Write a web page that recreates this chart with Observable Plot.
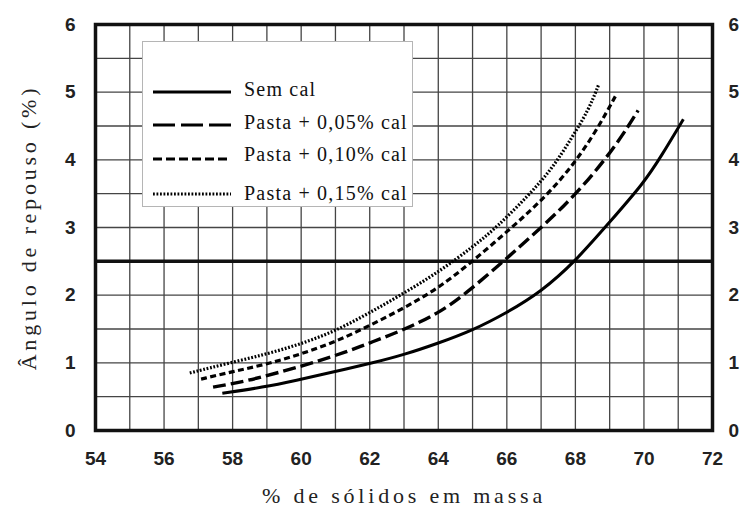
<!DOCTYPE html>
<html><head><meta charset="utf-8">
<script src="https://cdn.jsdelivr.net/npm/d3@7"></script>
<script src="https://cdn.jsdelivr.net/npm/@observablehq/plot@0.6"></script>
<style>
html,body{margin:0;padding:0;background:#fff;}
#wrap{position:relative;width:744px;height:509px;overflow:hidden;}
#legend{position:absolute;left:142px;top:41px;width:271px;height:166px;background:#fff;border:1px solid #b5b5b5;box-sizing:border-box;}
</style></head><body><div id="wrap"></div>
<script>
// tick labels
const xTicks = [54, 56, 58, 60, 62, 64, 66, 68, 70, 72];
const yTicks = [0, 1, 2, 3, 4, 5, 6];
const xGridStep = 1;
const yGridStep = 0.5;
const refLine = [2.5];
const xTitle = "% de sólidos em massa";
const yTitle = "Ângulo de repouso (%)";

// series
const seriesNames = ["Sem cal", "Pasta + 0,05% cal", "Pasta + 0,10% cal", "Pasta + 0,15% cal"];
const semCalX = [57.7, 58.9, 59.85, 60.9, 62.1, 63, 64, 65, 66, 67, 68, 69, 70, 70.5, 71.15];
const semCalY = [0.55, 0.64, 0.74, 0.86, 1.0, 1.12, 1.29, 1.48, 1.74, 2.05, 2.5, 3.08, 3.66, 4.05, 4.6];
const p005X = [57.43, 58.4, 59.37, 60.34, 61.31, 62.08, 63, 64, 64.8, 65.9, 66.83, 67.7, 68.48, 69.25, 69.83];
const p005Y = [0.64, 0.73, 0.86, 1.0, 1.16, 1.31, 1.49, 1.73, 2.02, 2.5, 2.92, 3.33, 3.76, 4.26, 4.73];
const p010X = [57.08, 58, 59, 60, 61, 62, 63, 64, 65, 66.15, 67.12, 67.9, 68.58, 69.2];
const p010Y = [0.76, 0.87, 0.98, 1.13, 1.31, 1.55, 1.81, 2.1, 2.5, 3.0, 3.45, 3.9, 4.4, 4.97];
const p015X = [56.75, 57.92, 59, 60, 61, 62, 63, 64, 65, 65.7, 66.64, 67.31, 67.9, 68.38, 68.67];
const p015Y = [0.85, 1.0, 1.13, 1.28, 1.47, 1.74, 2.03, 2.34, 2.71, 3.0, 3.48, 3.86, 4.33, 4.73, 5.1];

const seriesX = [semCalX, p005X, p010X, p015X];
const seriesY = [semCalY, p005Y, p010Y, p015Y];
const dashes = [null, "13,5", "6,3.5", "1.8,1.7"];
const widths = [3, 3.4, 3.2, 3.2];

const xGrid = d3.range(54, 72 + 1e-9, xGridStep);
const yGrid = d3.range(0, 6 + 1e-9, yGridStep);

const lineMarks = seriesNames.map((name, i) => {
  const rows = seriesX[i].map((x, j) => ({x, y: seriesY[i][j], s: name}));
  return Plot.line(rows, {x: "x", y: "y", stroke: "#000", strokeWidth: widths[i],
    strokeDasharray: dashes[i] || undefined, strokeLinecap: "butt", curve: "basis"});
});

const tickFont = {fontSize: 19, fontWeight: "bold", fontFamily: "Liberation Sans, Arial, sans-serif", fill: "#222", tickFormat: d => String(d)};
const titleFont = {fontSize: 22, fontFamily: "'Liberation Serif', 'Times New Roman', serif", fill: "#222", textAnchor: "middle"};

const chart = Plot.plot({
  width: 744, height: 509,
  marginTop: 24, marginBottom: 79, marginLeft: 95, marginRight: 32,
  style: {background: "#fff", color: "#000", overflow: "visible"},
  x: {domain: [54, 72]},
  y: {domain: [0, 6]},
  marks: [
    Plot.ruleX(xGrid, {stroke: "#454545", strokeWidth: 1.3}),
    Plot.ruleY(yGrid, {stroke: "#454545", strokeWidth: 1.3}),
    Plot.ruleY(refLine, {stroke: "#111", strokeWidth: 3.5}),
    Plot.frame({stroke: "#111", strokeWidth: 3.5}),
    ...lineMarks,
    Plot.axisX(xTicks, {tickSize: 0, tickPadding: 21, label: null, ...tickFont}),
    Plot.axisY(yTicks, {anchor: "left", tickSize: 0, tickPadding: 20, label: null, ...tickFont}),
    Plot.axisY(yTicks, {anchor: "right", tickSize: 0, tickPadding: 16, label: null, ...tickFont}),
    Plot.text([xTitle], {text: d => d, frameAnchor: "bottom", dy: 65, lineAnchor: "middle", ...titleFont}),
    Plot.text([yTitle], {text: d => d, frameAnchor: "left", dx: -67, rotate: -90, lineAnchor: "middle", ...titleFont})
  ]
});
chart.querySelectorAll("text").forEach(t => {
  if (t.textContent === xTitle || t.textContent === yTitle) t.setAttribute("letter-spacing", "3.8");
});
document.getElementById("wrap").appendChild(chart);

// legend box (overlay)
const legend = document.createElement("div");
legend.id = "legend";
const ns = "http://www.w3.org/2000/svg";
const ls = document.createElementNS(ns, "svg");
ls.setAttribute("width", 269); ls.setAttribute("height", 164);
const lineYs = [50, 83, 117, 152];
const textYs = [47, 80, 112, 151];
const legendDash = [null, "22,6", "9,4", "1.8,1.7"];
seriesNames.forEach((name, i) => {
  const l = document.createElementNS(ns, "line");
  l.setAttribute("x1", 10); l.setAttribute("x2", 88);
  l.setAttribute("y1", lineYs[i]); l.setAttribute("y2", lineYs[i]);
  l.setAttribute("stroke", "#000"); l.setAttribute("stroke-width", i === 0 ? 3.2 : 3);
  if (legendDash[i]) l.setAttribute("stroke-dasharray", legendDash[i]);
  ls.appendChild(l);
  const t = document.createElementNS(ns, "text");
  t.setAttribute("x", 101); t.setAttribute("y", textYs[i]);
  t.setAttribute("dominant-baseline", "central");
  t.setAttribute("font-family", "'Liberation Serif', 'Times New Roman', serif");
  t.setAttribute("font-size", 20);
  t.setAttribute("letter-spacing", 1.2);
  t.setAttribute("fill", "#111");
  t.textContent = name;
  ls.appendChild(t);
});
legend.appendChild(ls);
document.getElementById("wrap").appendChild(legend);
</script>
</body></html>
